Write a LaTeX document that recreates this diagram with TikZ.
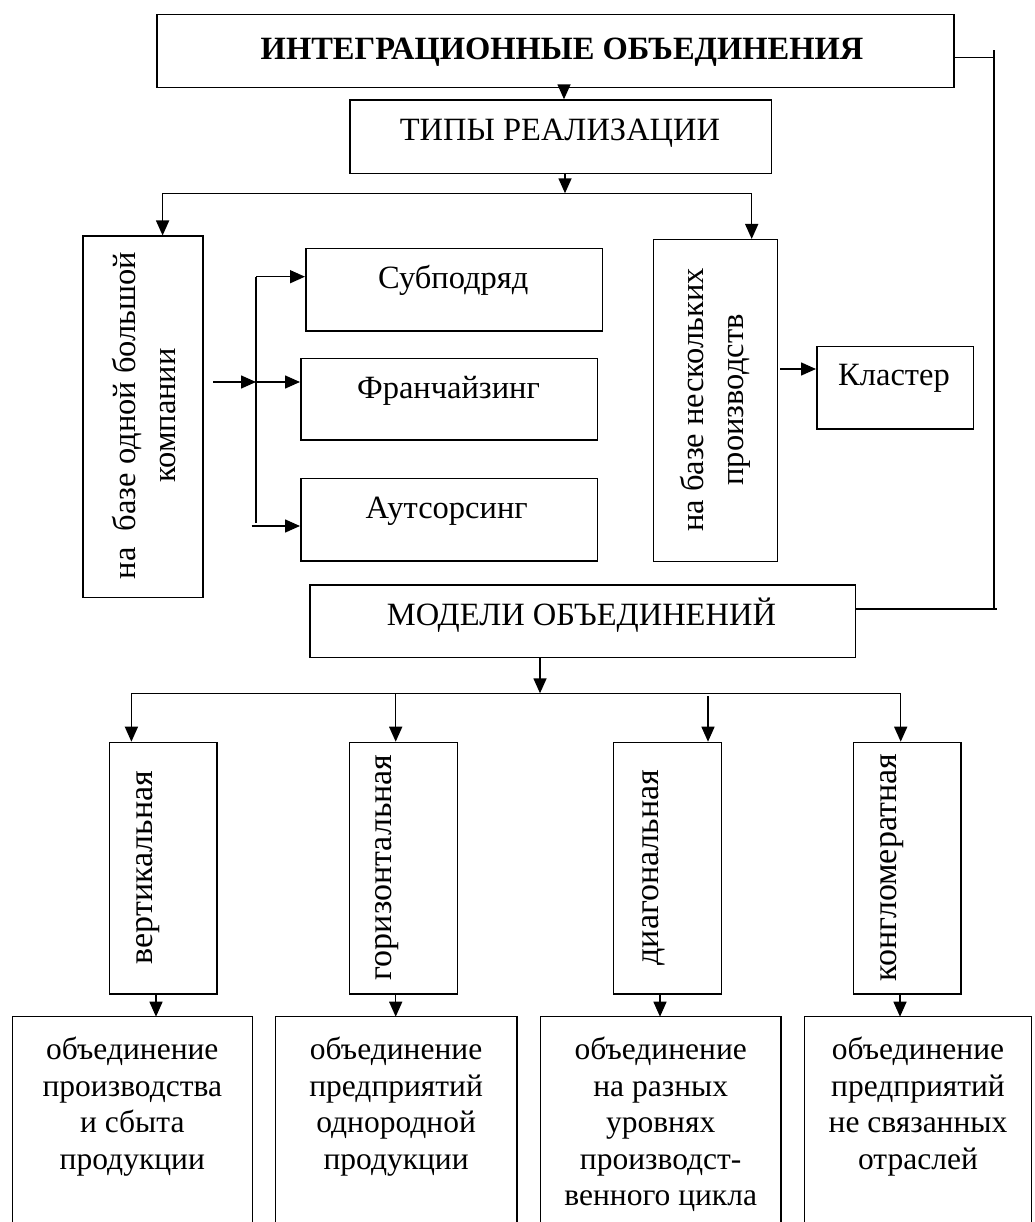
\documentclass[tikz,border=0pt]{standalone}
\usepackage{fontspec}
\setmainfont{Liberation Serif}
\usetikzlibrary{arrows.meta}
\newcommand\fz{\fontsize{32.5pt}{36.5pt}\selectfont}
\newcommand\fzb{\fontsize{31.5pt}{36.5pt}\selectfont}
\newcommand\fzv{\fontsize{34pt}{38pt}\selectfont}
\newcommand\fzr{\fontsize{32.5pt}{40pt}\selectfont}
\tikzset{
  frame/.style={draw, line width=1.5pt, inner sep=0pt, anchor=north west},
  openframe/.style={inner sep=0pt, anchor=north west},
  ln/.style={line width=1.5pt},
  arr/.style={line width=1.5pt, -{Triangle[length=15pt,width=13pt]}},
  txt/.style={font=\fz, inner sep=0pt},
  rtxt/.style={font=\fzv, inner sep=0pt, rotate=90, text height=0.45em, text depth=0pt, anchor=center},
  mtxt/.style={font=\fzr, inner sep=0pt, rotate=90, align=center, anchor=center},
  btxt/.style={font=\fzb, inner sep=0pt, align=center, anchor=north},
}
\begin{document}
\begin{tikzpicture}[x=1pt,y=-1pt]
\useasboundingbox[fill=white] (0,0) rectangle (1034,1222);

% frames
\node[frame, minimum width=797pt, minimum height=72.7pt] (top) at (156,14) {};
\node[frame, minimum width=421.7pt, minimum height=73.7pt] (types) at (349,99.3) {};
\node[frame, minimum width=120pt, minimum height=361pt] (left) at (82,235.5) {};
\node[frame, minimum width=124pt, minimum height=321.7pt] (right) at (652.7,239) {};
\node[frame, minimum width=296.5pt, minimum height=82pt] (sub) at (305,248) {};
\node[frame, minimum width=296.5pt, minimum height=81.6pt] (fran) at (300,357.7) {};
\node[frame, minimum width=296.7pt, minimum height=82.3pt] (aut) at (300,477.7) {};
\node[frame, minimum width=156.7pt, minimum height=82.3pt] (clust) at (816,345.7) {};
\node[frame, minimum width=545.5pt, minimum height=72.7pt] (models) at (309,584) {};
\node[frame, minimum width=107.6pt, minimum height=251.3pt] (v1) at (108.7,741.7) {};
\node[frame, minimum width=108pt, minimum height=251.3pt] (v2) at (348.5,741.7) {};
\node[frame, minimum width=108pt, minimum height=251.3pt] (v3) at (612.6,741.7) {};
\node[frame, minimum width=107.8pt, minimum height=251.3pt] (v4) at (852.5,741.7) {};
\node[openframe, minimum width=240pt, minimum height=206pt] (w1) at (12.3,1016.7) {};
\node[openframe, minimum width=240.8pt, minimum height=206pt] (w2) at (275.7,1016.7) {};
\node[openframe, minimum width=240pt, minimum height=206pt] (w3) at (540.7,1016.7) {};
\node[openframe, minimum width=226.5pt, minimum height=206pt] (w4) at (804.7,1016.7) {};
\foreach \w in {w1,w2,w3,w4}{
  \draw[ln] (\w.south west) -- (\w.north west) -- (\w.north east) -- (\w.south east);
}

% texts
\node[txt, anchor=base, font=\fz\bfseries] (ttop) at (562,60) {ИНТЕГРАЦИОННЫЕ ОБЪЕДИНЕНИЯ};
\node[txt, anchor=base] (ttypes) at (560,140.5) {ТИПЫ РЕАЛИЗАЦИИ};
\node[mtxt] (tleft) at (144.5,415.5) {на\ \ базе одной большой\\компании};
\node[mtxt] (tright) at (715.5,400) {на базе нескольких\\производств};
\node[txt, anchor=base] (tsub) at (453.3,288.3) {Субподряд};
\node[txt, anchor=base] (tfran) at (448.5,398.3) {Франчайзинг};
\node[txt, anchor=base] (taut) at (446.7,518.3) {Аутсорсинг};
\node[txt, anchor=base] (tclust) at (894,385) {Кластер};
\node[txt, anchor=base] (tmodels) at (581.5,625) {МОДЕЛИ ОБЪЕДИНЕНИЙ};
\node[rtxt] (tv1) at (150,867.5) {вертикальная};
\node[rtxt] (tv2) at (389,867.3) {горизонтальная};
\node[rtxt] (tv3) at (656,867.5) {диагональная};
\node[rtxt] (tv4) at (894,867.5) {конгломератная};
\node[btxt] (tw1) at (132.3,1037) {объединение\\производства\\и сбыта\\продукции};
\node[btxt] (tw2) at (396.1,1037) {объединение\\предприятий\\однородной\\продукции};
\node[btxt] (tw3) at (660.7,1037) {объединение\\на разных\\уровнях\\производст-\\венного цикла};
\node[btxt] (tw4) at (918,1037) {объединение\\предприятий\\не связанных\\отраслей};

% connector coordinates
\coordinate (c1) at (564,0);
\coordinate (busA) at (565,193.3);
\coordinate (busAL) at (162.6,193.3);
\coordinate (busAR) at (751.7,193.3);
\coordinate (fanS) at (213,382);
\coordinate (fanT) at (256,276.7);
\coordinate (fanM) at (256,382);
\coordinate (fanB) at (256,523);
\coordinate (fanA) at (251.7,526);
\coordinate (clS) at (780,369);
\coordinate (fbT) at (994,57.3);
\coordinate (fbB) at (994,609);
\coordinate (busB) at (540,693.3);
\coordinate (bL) at (131.4,693.3);
\coordinate (b2) at (395.7,693.3);
\coordinate (b3) at (708,696);
\coordinate (bR) at (900.7,693.3);
\coordinate (d1) at (156,0);
\coordinate (d2) at (395.7,0);
\coordinate (d3) at (660,0);
\coordinate (d4) at (900,0);

% connectors
\draw[arr] (top.south -| c1) -- (types.north -| c1);
\draw[arr] (types.south -| busA) -- (busA);
\draw[ln] (busAL) -- (busAR);
\draw[arr] (busAL) -- (left.north -| busAL);
\draw[arr] (busAR) -- (right.north -| busAR);

\draw[arr] (fanS) -- (fanM);
\draw[ln] (fanT) -- (fanB);
\draw[arr] (fanT) -- (sub.west |- fanT);
\draw[arr] (fanM) -- (fran.west |- fanM);
\draw[arr] (fanA) -- (aut.west |- fanA);

\draw[arr] (clS) -- (clust.west |- clS);

\draw[ln] (top.east |- fbT) -- ([xshift=1pt]fbT);
\draw[ln] ([yshift=7pt]fbT) -- (fbB);
\draw[ln] (models.east |- fbB) -- ([xshift=3pt]fbB);

\draw[arr] (models.south -| busB) -- (busB);
\draw[ln] (bL) -- (bR);
\draw[arr] (bL) -- (v1.north -| bL);
\draw[arr] (b2) -- (v2.north -| b2);
\draw[arr] (b3) -- (v3.north -| b3);
\draw[arr] (bR) -- (v4.north -| bR);

\draw[arr] (v1.south -| d1) -- (w1.north -| d1);
\draw[arr] (v2.south -| d2) -- (w2.north -| d2);
\draw[arr] (v3.south -| d3) -- (w3.north -| d3);
\draw[arr] (v4.south -| d4) -- (w4.north -| d4);
\end{tikzpicture}
\end{document}
